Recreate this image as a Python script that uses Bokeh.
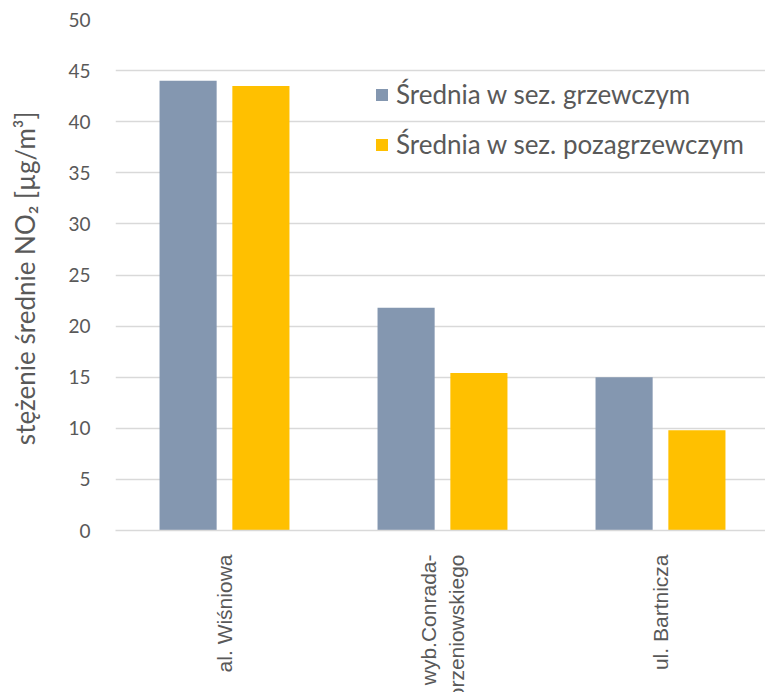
from bokeh.plotting import figure
from bokeh.models import (ColumnDataSource, Range1d, FixedTicker, Legend,
                          LegendItem)
from bokeh.embed import file_html
from bokeh.resources import INLINE
import numpy as np

# Mean NO2 concentration per station, heating vs non-heating season
stations = ["al. Wiśniowa", "wyb.Conrada-\nKorzeniowskiego", "ul. Bartnicza"]
heating = [44.0, 21.8, 15.0]
non_heating = [43.5, 15.4, 9.8]
series_names = ["Średnia w sez. grzewczym", "Średnia w sez. pozagrzewczym"]
y_ticks = [0, 5, 10, 15, 20, 25, 30, 35, 40, 45, 50]

GREY = "#8497B0"
GOLD = "#FFC000"
TEXT = "#595959"
GRID = "#D9D9D9"

centers = np.arange(len(stations)) + 0.5
bar_w = 0.262
offset = 0.167

src = ColumnDataSource(dict(
    x1=centers - offset, x2=centers + offset,
    heating=heating, non_heating=non_heating,
))

p = figure(output_backend="svg", toolbar_location=None,
           x_range=Range1d(0, 650 / 218), y_range=Range1d(0, 50),
           frame_width=650, frame_height=511,
           min_border_left=115, min_border_right=0, min_border_top=19,
           min_border_bottom=0, outline_line_color=None)

r1 = p.vbar(x="x1", top="heating", width=bar_w, source=src,
            fill_color=GREY, line_color=None)
r2 = p.vbar(x="x2", top="non_heating", width=bar_w, source=src,
            fill_color=GOLD, line_color=None)

# y axis
p.yaxis.ticker = FixedTicker(ticks=y_ticks)
p.yaxis.axis_line_color = None
p.yaxis.major_tick_line_color = None
p.yaxis.minor_tick_line_color = None
p.yaxis.major_label_text_font = "Lato"
p.yaxis.major_label_text_font_size = "19px"
p.yaxis.major_label_text_color = TEXT
p.yaxis.major_label_standoff = 19
p.yaxis.axis_label = "stężenie średnie NO₂  [µg/m³]"
p.yaxis.axis_label_text_font = "Lato"
p.yaxis.axis_label_text_font_style = "normal"
p.yaxis.axis_label_text_font_size = "26px"
p.yaxis.axis_label_text_color = TEXT
p.yaxis.axis_label_standoff = 24

# x axis with station names
p.xaxis.ticker = FixedTicker(ticks=list(centers))
p.xaxis.major_label_overrides = {float(c): s for c, s in zip(centers, stations)}
p.xaxis.major_label_orientation = np.pi / 2
p.xaxis.axis_line_color = GRID
p.xaxis.axis_line_width = 1.5
p.xaxis.major_tick_line_color = None
p.xaxis.minor_tick_line_color = None
p.xaxis.major_label_text_font = "Liberation Sans"
p.xaxis.major_label_text_font_size = "21px"
p.xaxis.major_label_text_color = TEXT
p.xaxis.major_label_standoff = 18

p.xgrid.grid_line_color = None
p.ygrid.grid_line_color = GRID
p.ygrid.grid_line_width = 1.5

legend = Legend(items=[LegendItem(label=series_names[0], renderers=[r1]),
                       LegendItem(label=series_names[1], renderers=[r2])],
                location=(259, 370), padding=0, margin=0, spacing=18,
                glyph_width=15, glyph_height=15, label_height=24,
                label_standoff=7, border_line_color=None,
                background_fill_alpha=0,
                label_text_font="Lato", label_text_font_size="26px",
                label_text_color=TEXT)
p.add_layout(legend)

open("out.html", "w").write(file_html(p, INLINE))
